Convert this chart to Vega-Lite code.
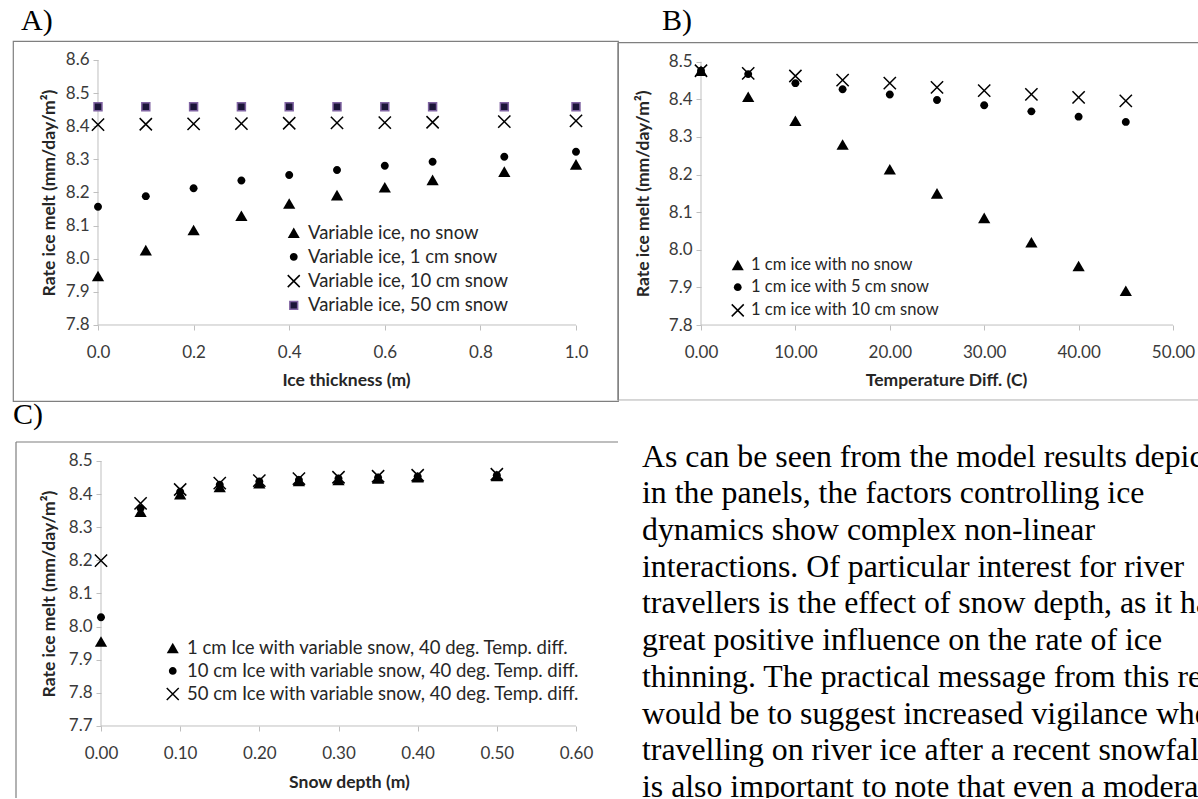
{
  "$schema": "https://vega.github.io/schema/vega-lite/v6.json",
  "padding": {"top": 5, "left": 12, "right": 0, "bottom": 0},
  "background": "white",
  "config": {
    "view": {"stroke": null},
    "font": "Lato",
    "axis": {"grid": false, "domain": false, "tickColor": "#bfbfbf", "tickSize": 5, "tickWidth": 1, "labelFont": "Lato", "labelFontSize": 17, "labelColor": "#3a3a3a", "titleFont": "Lato", "titleFontWeight": "bold", "titleColor": "#262626", "labelFlush": false, "labelOverlap": false},
    "legend": {"labelFont": "Lato", "labelColor": "#262626", "labelLimit": 700, "padding": 0, "labelOffset": 5, "symbolSize": 144, "symbolStrokeWidth": 1.5},
    "title": {"font": "Liberation Serif", "fontSize": 30, "fontWeight": "normal", "color": "#000000", "anchor": "start", "frame": "group", "baseline": "alphabetic"}
  },
  "datasets": {
    "a": [
      {"s": "Variable ice, no snow", "x": 0, "y": 7.948},
      {"s": "Variable ice, no snow", "x": 0.1, "y": 8.026},
      {"s": "Variable ice, no snow", "x": 0.2, "y": 8.087},
      {"s": "Variable ice, no snow", "x": 0.3, "y": 8.130},
      {"s": "Variable ice, no snow", "x": 0.4, "y": 8.167},
      {"s": "Variable ice, no snow", "x": 0.5, "y": 8.192},
      {"s": "Variable ice, no snow", "x": 0.6, "y": 8.216},
      {"s": "Variable ice, no snow", "x": 0.7, "y": 8.238},
      {"s": "Variable ice, no snow", "x": 0.85, "y": 8.263},
      {"s": "Variable ice, no snow", "x": 1.0, "y": 8.285},
      {"s": "Variable ice, 1 cm snow", "x": 0, "y": 8.157},
      {"s": "Variable ice, 1 cm snow", "x": 0.1, "y": 8.189},
      {"s": "Variable ice, 1 cm snow", "x": 0.2, "y": 8.213},
      {"s": "Variable ice, 1 cm snow", "x": 0.3, "y": 8.236},
      {"s": "Variable ice, 1 cm snow", "x": 0.4, "y": 8.253},
      {"s": "Variable ice, 1 cm snow", "x": 0.5, "y": 8.268},
      {"s": "Variable ice, 1 cm snow", "x": 0.6, "y": 8.281},
      {"s": "Variable ice, 1 cm snow", "x": 0.7, "y": 8.293},
      {"s": "Variable ice, 1 cm snow", "x": 0.85, "y": 8.308},
      {"s": "Variable ice, 1 cm snow", "x": 1.0, "y": 8.323},
      {"s": "Variable ice, 10 cm snow", "x": 0, "y": 8.405},
      {"s": "Variable ice, 10 cm snow", "x": 0.1, "y": 8.406},
      {"s": "Variable ice, 10 cm snow", "x": 0.2, "y": 8.407},
      {"s": "Variable ice, 10 cm snow", "x": 0.3, "y": 8.408},
      {"s": "Variable ice, 10 cm snow", "x": 0.4, "y": 8.409},
      {"s": "Variable ice, 10 cm snow", "x": 0.5, "y": 8.410},
      {"s": "Variable ice, 10 cm snow", "x": 0.6, "y": 8.411},
      {"s": "Variable ice, 10 cm snow", "x": 0.7, "y": 8.412},
      {"s": "Variable ice, 10 cm snow", "x": 0.85, "y": 8.414},
      {"s": "Variable ice, 10 cm snow", "x": 1.0, "y": 8.416},
      {"s": "Variable ice, 50 cm snow", "x": 0, "y": 8.459},
      {"s": "Variable ice, 50 cm snow", "x": 0.1, "y": 8.459},
      {"s": "Variable ice, 50 cm snow", "x": 0.2, "y": 8.459},
      {"s": "Variable ice, 50 cm snow", "x": 0.3, "y": 8.459},
      {"s": "Variable ice, 50 cm snow", "x": 0.4, "y": 8.459},
      {"s": "Variable ice, 50 cm snow", "x": 0.5, "y": 8.459},
      {"s": "Variable ice, 50 cm snow", "x": 0.6, "y": 8.459},
      {"s": "Variable ice, 50 cm snow", "x": 0.7, "y": 8.459},
      {"s": "Variable ice, 50 cm snow", "x": 0.85, "y": 8.459},
      {"s": "Variable ice, 50 cm snow", "x": 1.0, "y": 8.459}
    ],
    "b": [
      {"s": "1 cm ice with no snow", "x": 0, "y": 8.476},
      {"s": "1 cm ice with no snow", "x": 5, "y": 8.407},
      {"s": "1 cm ice with no snow", "x": 10, "y": 8.343},
      {"s": "1 cm ice with no snow", "x": 15, "y": 8.280},
      {"s": "1 cm ice with no snow", "x": 20, "y": 8.214},
      {"s": "1 cm ice with no snow", "x": 25, "y": 8.150},
      {"s": "1 cm ice with no snow", "x": 30, "y": 8.085},
      {"s": "1 cm ice with no snow", "x": 35, "y": 8.020},
      {"s": "1 cm ice with no snow", "x": 40, "y": 7.957},
      {"s": "1 cm ice with no snow", "x": 45, "y": 7.891},
      {"s": "1 cm ice with 5 cm snow", "x": 0, "y": 8.476},
      {"s": "1 cm ice with 5 cm snow", "x": 5, "y": 8.467},
      {"s": "1 cm ice with 5 cm snow", "x": 10, "y": 8.443},
      {"s": "1 cm ice with 5 cm snow", "x": 15, "y": 8.427},
      {"s": "1 cm ice with 5 cm snow", "x": 20, "y": 8.413},
      {"s": "1 cm ice with 5 cm snow", "x": 25, "y": 8.398},
      {"s": "1 cm ice with 5 cm snow", "x": 30, "y": 8.384},
      {"s": "1 cm ice with 5 cm snow", "x": 35, "y": 8.368},
      {"s": "1 cm ice with 5 cm snow", "x": 40, "y": 8.354},
      {"s": "1 cm ice with 5 cm snow", "x": 45, "y": 8.340},
      {"s": "1 cm ice with 10 cm snow", "x": 0, "y": 8.476},
      {"s": "1 cm ice with 10 cm snow", "x": 5, "y": 8.469},
      {"s": "1 cm ice with 10 cm snow", "x": 10, "y": 8.462},
      {"s": "1 cm ice with 10 cm snow", "x": 15, "y": 8.451},
      {"s": "1 cm ice with 10 cm snow", "x": 20, "y": 8.443},
      {"s": "1 cm ice with 10 cm snow", "x": 25, "y": 8.432},
      {"s": "1 cm ice with 10 cm snow", "x": 30, "y": 8.423},
      {"s": "1 cm ice with 10 cm snow", "x": 35, "y": 8.413},
      {"s": "1 cm ice with 10 cm snow", "x": 40, "y": 8.405},
      {"s": "1 cm ice with 10 cm snow", "x": 45, "y": 8.396}
    ],
    "c": [
      {"s": "1 cm Ice with variable snow, 40 deg. Temp. diff.", "x": 0, "y": 7.955},
      {"s": "1 cm Ice with variable snow, 40 deg. Temp. diff.", "x": 0.05, "y": 8.347},
      {"s": "1 cm Ice with variable snow, 40 deg. Temp. diff.", "x": 0.1, "y": 8.400},
      {"s": "1 cm Ice with variable snow, 40 deg. Temp. diff.", "x": 0.15, "y": 8.422},
      {"s": "1 cm Ice with variable snow, 40 deg. Temp. diff.", "x": 0.2, "y": 8.433},
      {"s": "1 cm Ice with variable snow, 40 deg. Temp. diff.", "x": 0.25, "y": 8.440},
      {"s": "1 cm Ice with variable snow, 40 deg. Temp. diff.", "x": 0.3, "y": 8.443},
      {"s": "1 cm Ice with variable snow, 40 deg. Temp. diff.", "x": 0.35, "y": 8.447},
      {"s": "1 cm Ice with variable snow, 40 deg. Temp. diff.", "x": 0.4, "y": 8.451},
      {"s": "1 cm Ice with variable snow, 40 deg. Temp. diff.", "x": 0.5, "y": 8.455},
      {"s": "10 cm Ice with variable snow, 40 deg. Temp. diff.", "x": 0, "y": 8.028},
      {"s": "10 cm Ice with variable snow, 40 deg. Temp. diff.", "x": 0.05, "y": 8.357},
      {"s": "10 cm Ice with variable snow, 40 deg. Temp. diff.", "x": 0.1, "y": 8.407},
      {"s": "10 cm Ice with variable snow, 40 deg. Temp. diff.", "x": 0.15, "y": 8.428},
      {"s": "10 cm Ice with variable snow, 40 deg. Temp. diff.", "x": 0.2, "y": 8.438},
      {"s": "10 cm Ice with variable snow, 40 deg. Temp. diff.", "x": 0.25, "y": 8.443},
      {"s": "10 cm Ice with variable snow, 40 deg. Temp. diff.", "x": 0.3, "y": 8.447},
      {"s": "10 cm Ice with variable snow, 40 deg. Temp. diff.", "x": 0.35, "y": 8.450},
      {"s": "10 cm Ice with variable snow, 40 deg. Temp. diff.", "x": 0.4, "y": 8.453},
      {"s": "10 cm Ice with variable snow, 40 deg. Temp. diff.", "x": 0.5, "y": 8.457},
      {"s": "50 cm Ice with variable snow, 40 deg. Temp. diff.", "x": 0, "y": 8.199},
      {"s": "50 cm Ice with variable snow, 40 deg. Temp. diff.", "x": 0.05, "y": 8.372},
      {"s": "50 cm Ice with variable snow, 40 deg. Temp. diff.", "x": 0.1, "y": 8.414},
      {"s": "50 cm Ice with variable snow, 40 deg. Temp. diff.", "x": 0.15, "y": 8.433},
      {"s": "50 cm Ice with variable snow, 40 deg. Temp. diff.", "x": 0.2, "y": 8.441},
      {"s": "50 cm Ice with variable snow, 40 deg. Temp. diff.", "x": 0.25, "y": 8.447},
      {"s": "50 cm Ice with variable snow, 40 deg. Temp. diff.", "x": 0.3, "y": 8.451},
      {"s": "50 cm Ice with variable snow, 40 deg. Temp. diff.", "x": 0.35, "y": 8.454},
      {"s": "50 cm Ice with variable snow, 40 deg. Temp. diff.", "x": 0.4, "y": 8.457},
      {"s": "50 cm Ice with variable snow, 40 deg. Temp. diff.", "x": 0.5, "y": 8.460}
    ],
    "text": [
      {"line": 0, "text": "As can be seen from the model results depicted"},
      {"line": 1, "text": "in the panels, the factors controlling ice"},
      {"line": 2, "text": "dynamics show complex non-linear"},
      {"line": 3, "text": "interactions. Of particular interest for river"},
      {"line": 4, "text": "travellers is the effect of snow depth, as it has a"},
      {"line": 5, "text": "great positive influence on the rate of ice"},
      {"line": 6, "text": "thinning. The practical message from this result"},
      {"line": 7, "text": "would be to suggest increased vigilance when"},
      {"line": 8, "text": "travelling on river ice after a recent snowfall. It"},
      {"line": 9, "text": "is also important to note that even a moderate"}
    ]
  },
  "columns": 2,
  "spacing": {"row": 41, "column": 0},
  "bounds": "flush",
  "resolve": {
    "scale": {"shape": "independent", "fill": "independent", "stroke": "independent"},
    "legend": {"shape": "independent", "fill": "independent", "stroke": "independent"}
  },
  "concat": [
    {
      "width": 605,
      "height": 360,
      "view": {"stroke": "#7f7f7f", "strokeWidth": 1.2},
      "title": {"text": "A)", "dx": 8, "offset": 5},
      "layer": [
        {
          "data": {"values": [{}]},
          "mark": {"type": "rule", "color": "#bfbfbf", "strokeWidth": 1},
          "encoding": {
            "x": {"datum": 0, "type": "quantitative", "scale": {"domain": [-0.177824, 1.087866], "nice": false, "zero": false}},
            "y": {"datum": 7.8, "type": "quantitative", "scale": {"domain": [7.570566, 8.657358], "nice": false, "zero": false}},
            "y2": {"datum": 8.6}
          }
        },
        {
          "data": {"values": [{}]},
          "mark": {"type": "rule", "color": "#bfbfbf", "strokeWidth": 1},
          "encoding": {
            "x": {"datum": 0, "type": "quantitative", "scale": {"domain": [-0.177824, 1.087866], "nice": false, "zero": false}},
            "x2": {"datum": 1.0},
            "y": {"datum": 7.8, "type": "quantitative", "scale": {"domain": [7.570566, 8.657358], "nice": false, "zero": false}}
          }
        },
        {
          "data": {"name": "a"},
          "mark": {"type": "point", "filled": true, "opacity": 1, "size": 150, "strokeWidth": 1.5},
          "encoding": {
            "x": {"field": "x", "type": "quantitative", "scale": {"domain": [-0.177824, 1.087866], "nice": false, "zero": false},
              "axis": {"values": [0, 0.2, 0.4, 0.6, 0.8, 1.0], "format": ".1f", "offset": -76, "labelPadding": 14, "title": "Ice thickness (m)", "titleFontSize": 17.5, "titleX": 333, "titleY": 55, "titleBaseline": "middle", "titleAlign": "center", "titleAngle": 0}},
            "y": {"field": "y", "type": "quantitative", "scale": {"domain": [7.570566, 8.657358], "nice": false, "zero": false},
              "axis": {"values": [7.8, 7.9, 8.0, 8.1, 8.2, 8.3, 8.4, 8.5, 8.6], "format": ".1f", "offset": -85, "labelPadding": 4, "title": "Rate ice melt (mm/day/m²)", "titleFontSize": 17.5, "titleX": -49, "titleY": 151.5, "titleBaseline": "middle", "titleAlign": "center", "titleAngle": 270}},
            "shape": {"field": "s", "type": "nominal",
              "scale": {"domain": ["Variable ice, no snow", "Variable ice, 1 cm snow", "Variable ice, 10 cm snow", "Variable ice, 50 cm snow"], "range": ["triangle-up", "M0.65,0A0.65,0.65,0,1,1,-0.65,0A0.65,0.65,0,1,1,0.65,0Z", "M-1,-1L1,1M-1,1L1,-1", "M-0.65,-0.65H0.65V0.65H-0.65Z"]},
              "legend": {"orient": "none", "legendX": 271.5, "legendY": 182.5, "title": null, "rowPadding": 5.2, "labelFontSize": 18.5}},
            "fill": {"field": "s", "type": "nominal",
              "scale": {"domain": ["Variable ice, no snow", "Variable ice, 1 cm snow", "Variable ice, 10 cm snow", "Variable ice, 50 cm snow"], "range": ["#000000", "#000000", "#000000", "#1b1538"]},
              "legend": {"orient": "none", "legendX": 271.5, "legendY": 182.5, "title": null, "rowPadding": 5.2, "labelFontSize": 18.5}},
            "stroke": {"field": "s", "type": "nominal",
              "scale": {"domain": ["Variable ice, no snow", "Variable ice, 1 cm snow", "Variable ice, 10 cm snow", "Variable ice, 50 cm snow"], "range": ["transparent", "transparent", "#000000", "#8064a2"]},
              "legend": {"orient": "none", "legendX": 271.5, "legendY": 182.5, "title": null, "rowPadding": 5.2, "labelFontSize": 18.5}}
          }
        }
      ]
    },
    {
      "width": 581,
      "height": 360,
      "title": {"text": "B)", "dx": 44, "offset": 5},
      "layer": [
        {
          "data": {"values": [{}]},
          "mark": {"type": "rule", "color": "#7f7f7f", "strokeWidth": 1.2},
          "encoding": {
            "x": {"datum": -8.79237, "type": "quantitative", "scale": {"domain": [-8.79237, 52.75424], "nice": false, "zero": false}},
            "x2": {"datum": 52.75424},
            "y": {"datum": 8.5505, "type": "quantitative", "scale": {"domain": [7.598086, 8.555024], "nice": false, "zero": false}}
          }
        },
        {
          "data": {"values": [{}]},
          "mark": {"type": "rule", "color": "#b0b0b0", "strokeWidth": 1},
          "encoding": {
            "x": {"datum": -8.79237, "type": "quantitative", "scale": {"domain": [-8.79237, 52.75424], "nice": false, "zero": false}},
            "x2": {"datum": 52.75424},
            "y": {"datum": 7.6008, "type": "quantitative", "scale": {"domain": [7.598086, 8.555024], "nice": false, "zero": false}}
          }
        },
        {
          "data": {"values": [{}]},
          "mark": {"type": "rule", "color": "#7f7f7f", "strokeWidth": 1.2},
          "encoding": {
            "x": {"datum": -8.79237, "type": "quantitative", "scale": {"domain": [-8.79237, 52.75424], "nice": false, "zero": false}},
            "y": {"datum": 7.6008, "type": "quantitative", "scale": {"domain": [7.598086, 8.555024], "nice": false, "zero": false}},
            "y2": {"datum": 8.5505}
          }
        },
        {
          "data": {"values": [{}]},
          "mark": {"type": "rule", "color": "#bfbfbf", "strokeWidth": 1},
          "encoding": {
            "x": {"datum": 0, "type": "quantitative", "scale": {"domain": [-8.79237, 52.75424], "nice": false, "zero": false}},
            "y": {"datum": 7.8, "type": "quantitative", "scale": {"domain": [7.598086, 8.555024], "nice": false, "zero": false}},
            "y2": {"datum": 8.5}
          }
        },
        {
          "data": {"values": [{}]},
          "mark": {"type": "rule", "color": "#bfbfbf", "strokeWidth": 1},
          "encoding": {
            "x": {"datum": 0, "type": "quantitative", "scale": {"domain": [-8.79237, 52.75424], "nice": false, "zero": false}},
            "x2": {"datum": 50},
            "y": {"datum": 7.8, "type": "quantitative", "scale": {"domain": [7.598086, 8.555024], "nice": false, "zero": false}}
          }
        },
        {
          "data": {"name": "b"},
          "mark": {"type": "point", "filled": true, "opacity": 1, "size": 150, "strokeWidth": 1.5},
          "encoding": {
            "x": {"field": "x", "type": "quantitative", "scale": {"domain": [-8.79237, 52.75424], "nice": false, "zero": false},
              "axis": {"values": [0, 10, 20, 30, 40, 50], "format": ".2f", "offset": -76, "labelPadding": 14, "title": "Temperature Diff. (C)", "titleFontSize": 17.5, "titleX": 328, "titleY": 55, "titleBaseline": "middle", "titleAlign": "center", "titleAngle": 0}},
            "y": {"field": "y", "type": "quantitative", "scale": {"domain": [7.598086, 8.555024], "nice": false, "zero": false},
              "axis": {"values": [7.8, 7.9, 8.0, 8.1, 8.2, 8.3, 8.4, 8.5], "format": ".1f", "offset": -83, "labelPadding": 4, "title": "Rate ice melt (mm/day/m²)", "titleFontSize": 17.5, "titleX": -58, "titleY": 152.3, "titleBaseline": "middle", "titleAlign": "center", "titleAngle": 270}},
            "shape": {"field": "s", "type": "nominal",
              "scale": {"domain": ["1 cm ice with no snow", "1 cm ice with 5 cm snow", "1 cm ice with 10 cm snow"], "range": ["triangle-up", "M0.65,0A0.65,0.65,0,1,1,-0.65,0A0.65,0.65,0,1,1,0.65,0Z", "M-1,-1L1,1M-1,1L1,-1"]},
              "legend": {"orient": "none", "legendX": 111.5, "legendY": 215.7, "title": null, "rowPadding": 5.2, "labelFontSize": 16.5}},
            "fill": {"field": "s", "type": "nominal",
              "scale": {"domain": ["1 cm ice with no snow", "1 cm ice with 5 cm snow", "1 cm ice with 10 cm snow"], "range": ["#000000", "#000000", "#000000"]},
              "legend": {"orient": "none", "legendX": 111.5, "legendY": 215.7, "title": null, "rowPadding": 5.2, "labelFontSize": 16.5}},
            "stroke": {"field": "s", "type": "nominal",
              "scale": {"domain": ["1 cm ice with no snow", "1 cm ice with 5 cm snow", "1 cm ice with 10 cm snow"], "range": ["transparent", "transparent", "#000000"]},
              "legend": {"orient": "none", "legendX": 111.5, "legendY": 215.7, "title": null, "rowPadding": 5.2, "labelFontSize": 16.5}}
          }
        }
      ]
    },
    {
      "width": 605,
      "height": 356,
      "title": {"text": "C)", "dx": 0, "offset": 11},
      "layer": [
        {
          "data": {"values": [{}]},
          "mark": {"type": "rule", "color": "#7f7f7f", "strokeWidth": 1.2},
          "encoding": {
            "x": {"datum": -0.107369, "type": "quantitative", "scale": {"domain": [-0.111158, 0.653052], "nice": false, "zero": false}},
            "x2": {"datum": 0.653052},
            "y": {"datum": 8.557358, "type": "quantitative", "scale": {"domain": [7.482641, 8.557358], "nice": false, "zero": false}}
          }
        },
        {
          "data": {"values": [{}]},
          "mark": {"type": "rule", "color": "#7f7f7f", "strokeWidth": 1.2},
          "encoding": {
            "x": {"datum": -0.107369, "type": "quantitative", "scale": {"domain": [-0.111158, 0.653052], "nice": false, "zero": false}},
            "y": {"datum": 7.482641, "type": "quantitative", "scale": {"domain": [7.482641, 8.557358], "nice": false, "zero": false}},
            "y2": {"datum": 8.557358}
          }
        },
        {
          "data": {"values": [{}]},
          "mark": {"type": "rule", "color": "#bfbfbf", "strokeWidth": 1},
          "encoding": {
            "x": {"datum": 0, "type": "quantitative", "scale": {"domain": [-0.111158, 0.653052], "nice": false, "zero": false}},
            "y": {"datum": 7.7, "type": "quantitative", "scale": {"domain": [7.482641, 8.557358], "nice": false, "zero": false}},
            "y2": {"datum": 8.5}
          }
        },
        {
          "data": {"values": [{}]},
          "mark": {"type": "rule", "color": "#bfbfbf", "strokeWidth": 1},
          "encoding": {
            "x": {"datum": 0, "type": "quantitative", "scale": {"domain": [-0.111158, 0.653052], "nice": false, "zero": false}},
            "x2": {"datum": 0.6},
            "y": {"datum": 7.7, "type": "quantitative", "scale": {"domain": [7.482641, 8.557358], "nice": false, "zero": false}}
          }
        },
        {
          "data": {"name": "c"},
          "mark": {"type": "point", "filled": true, "opacity": 1, "size": 150, "strokeWidth": 1.5},
          "encoding": {
            "x": {"field": "x", "type": "quantitative", "scale": {"domain": [-0.111158, 0.653052], "nice": false, "zero": false},
              "axis": {"values": [0, 0.1, 0.2, 0.3, 0.4, 0.5, 0.6], "format": ".2f", "offset": -72, "labelPadding": 14, "title": "Snow depth (m)", "titleFontSize": 17.5, "titleX": 336, "titleY": 56, "titleBaseline": "middle", "titleAlign": "center", "titleAngle": 0}},
            "y": {"field": "y", "type": "quantitative", "scale": {"domain": [7.482641, 8.557358], "nice": false, "zero": false},
              "axis": {"values": [7.7, 7.8, 7.9, 8.0, 8.1, 8.2, 8.3, 8.4, 8.5], "format": ".1f", "offset": -88, "labelPadding": 4, "title": "Rate ice melt (mm/day/m²)", "titleFontSize": 17.5, "titleX": -52, "titleY": 151.5, "titleBaseline": "middle", "titleAlign": "center", "titleAngle": 270}},
            "shape": {"field": "s", "type": "nominal",
              "scale": {"domain": ["1 cm Ice with variable snow, 40 deg. Temp. diff.", "10 cm Ice with variable snow, 40 deg. Temp. diff.", "50 cm Ice with variable snow, 40 deg. Temp. diff."], "range": ["triangle-up", "M0.65,0A0.65,0.65,0,1,1,-0.65,0A0.65,0.65,0,1,1,0.65,0Z", "M-1,-1L1,1M-1,1L1,-1"]},
              "legend": {"orient": "none", "legendX": 150.5, "legendY": 196.7, "title": null, "rowPadding": 4, "labelFontSize": 18.5}},
            "fill": {"field": "s", "type": "nominal",
              "scale": {"domain": ["1 cm Ice with variable snow, 40 deg. Temp. diff.", "10 cm Ice with variable snow, 40 deg. Temp. diff.", "50 cm Ice with variable snow, 40 deg. Temp. diff."], "range": ["#000000", "#000000", "#000000"]},
              "legend": {"orient": "none", "legendX": 150.5, "legendY": 196.7, "title": null, "rowPadding": 4, "labelFontSize": 18.5}},
            "stroke": {"field": "s", "type": "nominal",
              "scale": {"domain": ["1 cm Ice with variable snow, 40 deg. Temp. diff.", "10 cm Ice with variable snow, 40 deg. Temp. diff.", "50 cm Ice with variable snow, 40 deg. Temp. diff."], "range": ["transparent", "transparent", "#000000"]},
              "legend": {"orient": "none", "legendX": 150.5, "legendY": 196.7, "title": null, "rowPadding": 4, "labelFontSize": 18.5}}
          }
        }
      ]
    },
    {
      "width": 581,
      "height": 356,
      "data": {"name": "text"},
      "mark": {"type": "text", "font": "Liberation Serif", "fontSize": 31.8, "align": "left", "baseline": "alphabetic", "color": "#000000", "clip": true},
      "encoding": {
        "x": {"datum": 0, "type": "quantitative", "scale": {"domain": [-1, 23.2083], "nice": false, "zero": false}, "axis": null},
        "y": {"field": "line", "type": "quantitative", "scale": {"domain": [-0.67302, 9.02725], "nice": false, "zero": false, "reverse": true}, "axis": null},
        "text": {"field": "text", "type": "nominal"}
      }
    }
  ]
}
